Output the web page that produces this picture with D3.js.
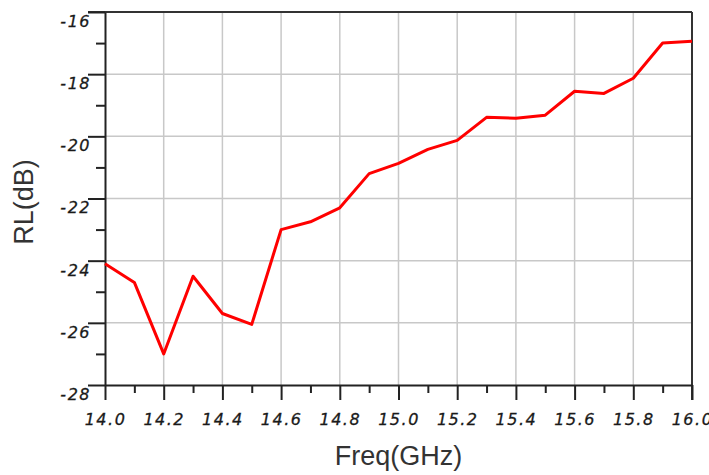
<!DOCTYPE html>
<html>
<head>
<meta charset="utf-8">
<script src="https://cdn.jsdelivr.net/npm/d3@7"></script>
<style>
  body { margin: 0; background: #fff; }
  .tick text { font-family: "DejaVu Sans", sans-serif; font-style: italic; font-size: 16px; letter-spacing: 1.5px; fill: #1a1a1a; stroke: #1a1a1a; stroke-width: 0.3px; }
</style>
</head>
<body>
<div id="chart"></div>
<script>
// frequency points (GHz) and return loss (dB)
var freq = [14.0, 14.1, 14.2, 14.3, 14.4, 14.5, 14.6, 14.7, 14.8, 14.9, 15.0,
            15.1, 15.2, 15.3, 15.4, 15.5, 15.6, 15.7, 15.8, 15.9, 16.0];
var rl = [-24.1, -24.7, -27.0, -24.5, -25.7, -26.05, -23.0, -22.75, -22.3, -21.2, -20.87,
          -20.42, -20.13, -19.39, -19.42, -19.32, -18.55, -18.62, -18.13, -17.0, -16.94];

var xMajor = [14.0, 14.2, 14.4, 14.6, 14.8, 15.0, 15.2, 15.4, 15.6, 15.8, 16.0];
var yMajor = [-28, -26, -24, -22, -20, -18, -16];

var width = 709, height = 475;
var margin = { left: 105, right: 17, top: 12, bottom: 90 };

var svg = d3.select("#chart").append("svg")
  .attr("width", width)
  .attr("height", height);

var x = d3.scaleLinear().domain([14.0, 16.0]).range([margin.left, width - margin.right]);
var y = d3.scaleLinear().domain([-28, -16]).range([height - margin.bottom, margin.top]);

// grid
svg.append("g").selectAll("line.vg")
  .data(xMajor.slice(1, -1))
  .enter().append("line")
  .attr("x1", function(d) { return x(d); })
  .attr("x2", function(d) { return x(d); })
  .attr("y1", y(-16)).attr("y2", y(-28))
  .attr("stroke", "#c8c8c8").attr("stroke-width", 1.5);

svg.append("g").selectAll("line.hg")
  .data(yMajor.slice(1, -1))
  .enter().append("line")
  .attr("x1", x(14)).attr("x2", x(16))
  .attr("y1", function(d) { return y(d); })
  .attr("y2", function(d) { return y(d); })
  .attr("stroke", "#c8c8c8").attr("stroke-width", 1.5);

// frame top + right
svg.append("line")
  .attr("x1", x(14) - 17).attr("x2", x(16))
  .attr("y1", y(-16)).attr("y2", y(-16))
  .attr("stroke", "#333").attr("stroke-width", 2);
svg.append("line")
  .attr("x1", x(16)).attr("x2", x(16))
  .attr("y1", y(-16)).attr("y2", y(-28) + 15)
  .attr("stroke", "#333").attr("stroke-width", 2);

// minor ticks
var xMinor = d3.range(0, 10).map(function(i) { return 14.1 + i * 0.2; });
var yMinor = [-27, -25, -23, -21, -19, -17];

var xAxis = svg.append("g")
  .attr("transform", "translate(0," + y(-28) + ")")
  .call(d3.axisBottom(x).tickValues(xMajor).tickSize(15).tickPadding(14)
    .tickFormat(function(d) { return d.toFixed(1); }).tickSizeOuter(0));
xAxis.select(".domain").attr("stroke", "#222").attr("stroke-width", 2);
xAxis.selectAll(".tick line").attr("stroke", "#222").attr("stroke-width", 2);

var xMinorAxis = svg.append("g")
  .attr("transform", "translate(0," + y(-28) + ")")
  .call(d3.axisBottom(x).tickValues(xMinor).tickSize(8).tickFormat(""));
xMinorAxis.select(".domain").remove();
xMinorAxis.selectAll(".tick line").attr("stroke", "#222").attr("stroke-width", 2);

var yAxis = svg.append("g")
  .attr("transform", "translate(" + x(14) + ",0)")
  .call(d3.axisLeft(y).tickValues(yMajor).tickSize(17).tickPadding(0).tickSizeOuter(0)
    .tickFormat(function(d) { return "-" + Math.abs(d); }));
yAxis.select(".domain").attr("stroke", "#222").attr("stroke-width", 2);
yAxis.selectAll(".tick line").attr("stroke", "#222").attr("stroke-width", 2);
yAxis.selectAll(".tick text").attr("dy", "0.9em").attr("x", -14);

var yMinorAxis = svg.append("g")
  .attr("transform", "translate(" + x(14) + ",0)")
  .call(d3.axisLeft(y).tickValues(yMinor).tickSize(9).tickFormat(""));
yMinorAxis.select(".domain").remove();
yMinorAxis.selectAll(".tick line").attr("stroke", "#222").attr("stroke-width", 2);

// data line
var line = d3.line()
  .x(function(d, i) { return x(freq[i]); })
  .y(function(d) { return y(d); });

svg.append("path")
  .datum(rl)
  .attr("d", line)
  .attr("fill", "none")
  .attr("stroke", "#ff0000")
  .attr("stroke-width", 3)
  .attr("stroke-linejoin", "round");

// axis titles
svg.append("text")
  .attr("x", (x(14) + x(16)) / 2)
  .attr("y", 465)
  .attr("text-anchor", "middle")
  .attr("font-family", "Liberation Sans, Arial, sans-serif")
  .attr("font-size", 27)
  .attr("fill", "#333")
  .text("Freq(GHz)");

svg.append("text")
  .attr("transform", "translate(33,202) rotate(-90)")
  .attr("text-anchor", "middle")
  .attr("font-family", "Liberation Sans, Arial, sans-serif")
  .attr("font-size", 27)
  .attr("fill", "#333")
  .text("RL(dB)");
</script>
</body>
</html>
